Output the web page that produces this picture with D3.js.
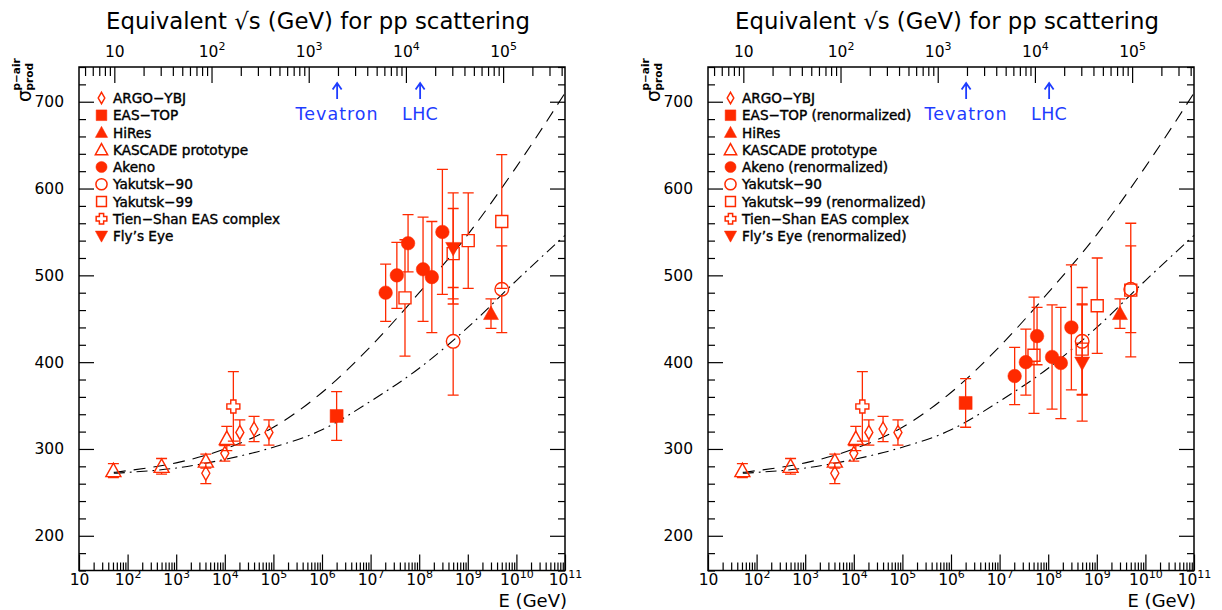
<!DOCTYPE html>
<html><head><meta charset="utf-8">
<script src="https://cdn.jsdelivr.net/npm/d3@7"></script>
<style>
body{margin:0;background:#fff}
svg{display:block}
text{font-family:"DejaVu Sans",sans-serif}
</style>
</head><body>
<svg id="c" width="1222" height="610"></svg>
<script>
// ---------------- data ----------------
const xDomain = [10, 1e11];
const yDomain = [160, 740];
const yMajorTicks = [200, 300, 400, 500, 600, 700];
const xMajorExps = [1, 2, 3, 4, 5, 6, 7, 8, 9, 10, 11];
const sqrtsMajorExps = [1, 2, 3, 4, 5];
const markers = { tevatron: 1960, lhc: 14000 };   // sqrt(s) in GeV
const markerLabels = ["Tevatron", "LHC"];

// ARGO-YBJ
const argoE = [4.07e3, 1.0e4, 2.04e4, 4.0e4, 8.1e4];
const argoSigma = [272, 295, 319, 323, 319];
const argoErr = [12, 9, 14.5, 14.5, 14.5];
// KASCADE prototype
const kascadeE = [51, 500, 4.07e3, 1.1e4];
const kascadeSigma = [275, 280, 286, 312];
const kascadeErr = [8, 9, 8, 14];
// Tien-Shan
const tienE = [1.5e4];
const tienSigma = [349];
const tienErr = [40];
// EAS-TOP
const eastopE = [2.0e6];
const eastopSigma = [338];
const eastopSigmaRenorm = [353];
const eastopErr = [28];
// HiRes
const hiresE = [3.0e9];
const hiresSigma = [456];
const hiresErr = [17];
// Akeno
const akenoE = [2.04e7, 3.47e7, 5.9e7, 1.2e8, 1.82e8, 3.0e8];
const akenoSigma = [480, 500, 537, 507, 498, 550];
const akenoSigmaRenorm = [384, 400, 430, 406, 399, 440];
const akenoErr = [33, 38, 33, 60, 64, 72];
// Yakutsk-90
const yak90E = [5.0e8, 5.0e9];
const yak90Sigma = [424, 484];
const yak90Err = [62, 50];
// Yakutsk-99
const yak99E = [5.1e7, 5.0e8, 1.02e9, 5.0e9];
const yak99Sigma = [474, 525, 540, 562];
const yak99SigmaRenorm = [408, 415, 465, 483];
const yak99Err = [67, 52, 55, 77];
// Fly's Eye
const flyE = [5.0e8];
const flySigma = [531];
const flySigmaRenorm = [399];
const flyErr = [64];
const flyErrRenorm = [67];

// model curves
const curveE = [52, 1e2, 1e3, 1e4, 1e5, 1e6, 1e7, 1e8, 1e9, 1e10, 1e11];
const dashedSigma = [273, 275, 284, 300, 325, 365, 418, 480, 547, 625, 710];
const dashDotSigma = [272, 273, 278, 288, 302, 322, 355, 393, 440, 494, 546];

const legendLeft = ["ARGO\u2212YBJ", "EAS\u2212TOP", "HiRes", "KASCADE prototype", "Akeno",
  "Yakutsk\u221290", "Yakutsk\u221299", "Tien\u2212Shan EAS complex", "Fly\u2019s Eye"];
const legendRight = ["ARGO\u2212YBJ", "EAS\u2212TOP (renormalized)", "HiRes", "KASCADE prototype",
  "Akeno (renormalized)", "Yakutsk\u221290", "Yakutsk\u221299 (renormalized)", "Tien\u2212Shan EAS complex",
  "Fly\u2019s Eye (renormalized)"];
const legendSymbols = ["diamondOpen", "squareFilled", "triUpFilled", "triUpOpen", "circleFilled",
  "circleOpen", "squareOpen", "crossOpen", "triDownFilled"];

// ---------------- drawing ----------------
const RED = "#ff2a00";
const BLUE = "#1e3cff";
const svg = d3.select("#c");
const MP2 = 2 * 0.938;

function symbolPath(type, s) {
  s = s || 1;
  const p = d3.path();
  switch (type) {
    case "diamondOpen": p.moveTo(0, -7*s); p.lineTo(4*s, 0); p.lineTo(0, 7*s); p.lineTo(-4*s, 0); p.closePath(); break;
    case "squareFilled": p.rect(-6.5*s, -6.5*s, 13*s, 13*s); break;
    case "squareOpen": p.rect(-6*s, -6*s, 12*s, 12*s); break;
    case "triUpFilled": case "triUpOpen": p.moveTo(0, -7.5*s); p.lineTo(7.5*s, 6*s); p.lineTo(-7.5*s, 6*s); p.closePath(); break;
    case "triDownFilled": p.moveTo(0, 7.5*s); p.lineTo(7.5*s, -6*s); p.lineTo(-7.5*s, -6*s); p.closePath(); break;
    case "circleFilled": case "circleOpen": p.arc(0, 0, 6.8*s, 0, 2*Math.PI); p.closePath(); break;
    case "crossOpen": {
      const a = 2.6*s, b = 6.5*s;
      p.moveTo(-a, -b); p.lineTo(a, -b); p.lineTo(a, -a); p.lineTo(b, -a); p.lineTo(b, a); p.lineTo(a, a);
      p.lineTo(a, b); p.lineTo(-a, b); p.lineTo(-a, a); p.lineTo(-b, a); p.lineTo(-b, -a); p.lineTo(-a, -a); p.closePath();
      break;
    }
  }
  return p.toString();
}
const filled = t => t.endsWith("Filled");
const halfH = { diamondOpen: 7, squareOpen: 6, triUpOpen: 6.5, circleOpen: 6.8, crossOpen: 6.5 };

function powLabel(sel, size, supSize) {
  sel.each(function(d) {
    const e = Math.round(Math.log10(d));
    const t = d3.select(this).text("").attr("font-size", size).attr("fill", "#000")
      .attr("font-family", "DejaVu Sans");
    t.append("tspan").text("10");
    if (e > 1) t.append("tspan").attr("dy", -7).attr("font-size", supSize).text(e);
  });
}

function drawPanel(ox, renorm) {
  const x = d3.scaleLog().domain(xDomain).range([79 + ox, 565 + ox]);
  const y = d3.scaleLinear().domain(yDomain).range([570.5, 67]);
  const sMin = Math.sqrt(MP2 * xDomain[0]), sMax = Math.sqrt(MP2 * xDomain[1]);
  const xs = d3.scaleLog().domain([sMin, sMax]).range([79 + ox, 565 + ox]);
  const g = svg.append("g");

  const xMinor = [];
  for (let e = 1; e <= 10; e++) for (let m = 2; m <= 9; m++) xMinor.push(m * Math.pow(10, e));
  const sMinor = [];
  for (let e = 0; e <= 5; e++) for (let m = 2; m <= 9; m++) {
    const v = m * Math.pow(10, e); if (v > sMin && v < sMax) sMinor.push(v);
  }
  const yMinor = d3.range(yDomain[0], yDomain[1] + 1, 20).filter(v => v % 100 !== 0);

  const styleAxis = sel => {
    sel.select(".domain").remove();
    sel.selectAll(".tick line").attr("stroke", "#000").attr("stroke-width", 1.2);
  };

  // bottom axis
  g.append("g").attr("transform", `translate(0,${y.range()[0]})`)
    .call(d3.axisBottom(x).tickValues(xMinor).tickSize(-8).tickFormat(""))
    .call(styleAxis);
  const bx = g.append("g").attr("transform", `translate(0,${y.range()[0]})`)
    .call(d3.axisBottom(x).tickValues(xMajorExps.map(e => Math.pow(10, e))).tickSize(-16).tickPadding(3))
    .call(styleAxis);
  bx.selectAll(".tick text").call(powLabel, 15.5, 11);
  // top axis (sqrt s)
  g.append("g").attr("transform", `translate(0,${y.range()[1]})`)
    .call(d3.axisTop(xs).tickValues(sMinor).tickSize(-9).tickFormat(""))
    .call(styleAxis);
  const tx = g.append("g").attr("transform", `translate(0,${y.range()[1]})`)
    .call(d3.axisTop(xs).tickValues(sqrtsMajorExps.map(e => Math.pow(10, e))).tickSize(-16).tickPadding(10))
    .call(styleAxis);
  tx.selectAll(".tick text").call(powLabel, 15.5, 11);
  // left / right axes
  g.append("g").attr("transform", `translate(${x.range()[0]},0)`)
    .call(d3.axisLeft(y).tickValues(yMinor).tickSize(-7).tickFormat("")).call(styleAxis);
  g.append("g").attr("transform", `translate(${x.range()[0]},0)`)
    .call(d3.axisLeft(y).tickValues(yMajorTicks).tickSize(-15).tickPadding(15).tickFormat(d3.format("d")))
    .call(styleAxis)
    .selectAll(".tick text").attr("font-size", 15.5).attr("fill", "#000").attr("font-family", "DejaVu Sans");
  g.append("g").attr("transform", `translate(${x.range()[1]},0)`)
    .call(d3.axisRight(y).tickValues(yMinor).tickSize(-7).tickFormat("")).call(styleAxis);
  g.append("g").attr("transform", `translate(${x.range()[1]},0)`)
    .call(d3.axisRight(y).tickValues(yMajorTicks).tickSize(-15).tickFormat("")).call(styleAxis);

  // frame
  g.append("rect").attr("x", x.range()[0]).attr("y", y.range()[1])
    .attr("width", x.range()[1] - x.range()[0]).attr("height", y.range()[0] - y.range()[1])
    .attr("fill", "none").attr("stroke", "#000").attr("stroke-width", 1.5);

  // titles
  g.append("text").attr("x", (x.range()[0] + x.range()[1]) / 2 - 4).attr("y", 29)
    .attr("text-anchor", "middle").attr("font-size", 22.8).attr("fill", "#000")
    .text("Equivalent \u221As (GeV) for pp scattering");
  g.append("text").attr("x", x.range()[1] + 2).attr("y", 607).attr("text-anchor", "end")
    .attr("font-size", 18).attr("fill", "#000").text("E (GeV)");
  const yl = g.append("g").attr("transform", `translate(${31 + ox},102) rotate(-90)`);
  yl.append("text").attr("x", 0).attr("y", 0).attr("font-size", 19).text("\u03c3");
  yl.append("text").attr("x", 11.5).attr("y", -11.5).attr("font-size", 10.5).attr("font-weight", "bold").text("p\u2212air");
  yl.append("text").attr("x", 11.5).attr("y", 1.5).attr("font-size", 10.5).attr("font-weight", "bold").text("prod");

  // Tevatron / LHC arrows
  [markers.tevatron, markers.lhc].forEach((s, i) => {
    const cx = xs(s);
    g.append("path").attr("d", `M${cx},99 L${cx},83 M${cx - 4.5},89.5 L${cx},83 L${cx + 4.5},89.5`)
      .attr("stroke", BLUE).attr("stroke-width", 1.8).attr("fill", "none");
    g.append("text").attr("x", cx).attr("y", 120).attr("text-anchor", "middle")
      .attr("font-size", 17.5).attr("letter-spacing", i === 0 ? 1.0 : 0.3).attr("fill", BLUE).text(markerLabels[i]);
  });

  // curves
  const line = d3.line().x((d, i) => x(curveE[i])).y(d => y(d)).curve(d3.curveMonotoneX);
  g.append("path").attr("d", line(dashedSigma)).attr("fill", "none").attr("stroke", "#000")
    .attr("stroke-width", 1.1).attr("stroke-dasharray", "12,8");
  g.append("path").attr("d", line(dashDotSigma)).attr("fill", "none").attr("stroke", "#000")
    .attr("stroke-width", 1.1).attr("stroke-dasharray", "11,5,1.8,5");

  // data sets
  const sets = [
    { E: argoE, s: argoSigma, e: argoErr, t: "diamondOpen" },
    { E: kascadeE, s: kascadeSigma, e: kascadeErr, t: "triUpOpen" },
    { E: tienE, s: tienSigma, e: tienErr, t: "crossOpen" },
    { E: eastopE, s: renorm ? eastopSigmaRenorm : eastopSigma, e: eastopErr, t: "squareFilled" },
    { E: akenoE, s: renorm ? akenoSigmaRenorm : akenoSigma, e: akenoErr, t: "circleFilled" },
    { E: yak99E, s: renorm ? yak99SigmaRenorm : yak99Sigma, e: yak99Err, t: "squareOpen" },
    { E: yak90E, s: yak90Sigma, e: yak90Err, t: "circleOpen" },
    { E: flyE, s: renorm ? flySigmaRenorm : flySigma, e: renorm ? flyErrRenorm : flyErr, t: "triDownFilled" },
    { E: hiresE, s: hiresSigma, e: hiresErr, t: "triUpFilled" }
  ];
  sets.forEach(ds => {
    const dg = g.append("g");
    ds.E.forEach((E, i) => {
      const px = x(E), py = y(ds.s[i]), top = y(ds.s[i] + ds.e[i]), bot = y(ds.s[i] - ds.e[i]);
      const gap = filled(ds.t) ? 0 : halfH[ds.t];
      const d = `M${px},${top} L${px},${py - gap} M${px},${py + gap} L${px},${bot}` +
        ` M${px - 5.5},${top} L${px + 5.5},${top} M${px - 5.5},${bot} L${px + 5.5},${bot}`;
      dg.append("path").attr("d", d).attr("stroke", RED).attr("stroke-width", 1.3).attr("fill", "none");
      dg.append("path").attr("d", symbolPath(ds.t)).attr("transform", `translate(${px},${py})`)
        .attr("fill", filled(ds.t) ? RED : "none").attr("stroke", RED)
        .attr("stroke-width", filled(ds.t) ? 0.5 : 1.4);
    });
  });

  // legend
  const labels = renorm ? legendRight : legendLeft;
  labels.forEach((lab, i) => {
    const ly = 98 + i * 17.25;
    g.append("path").attr("d", symbolPath(legendSymbols[i], 0.82))
      .attr("transform", `translate(${101.5 + ox},${ly})`)
      .attr("fill", filled(legendSymbols[i]) ? RED : "none").attr("stroke", RED)
      .attr("stroke-width", filled(legendSymbols[i]) ? 0.5 : 1.5);
    g.append("text").attr("x", 113 + ox).attr("y", ly + 5).attr("font-size", 13.6)
      .attr("fill", "#000").attr("stroke", "#000").attr("stroke-width", 0.4).text(lab);
  });
}

drawPanel(0, false);
drawPanel(629, true);
</script>
</body></html>
